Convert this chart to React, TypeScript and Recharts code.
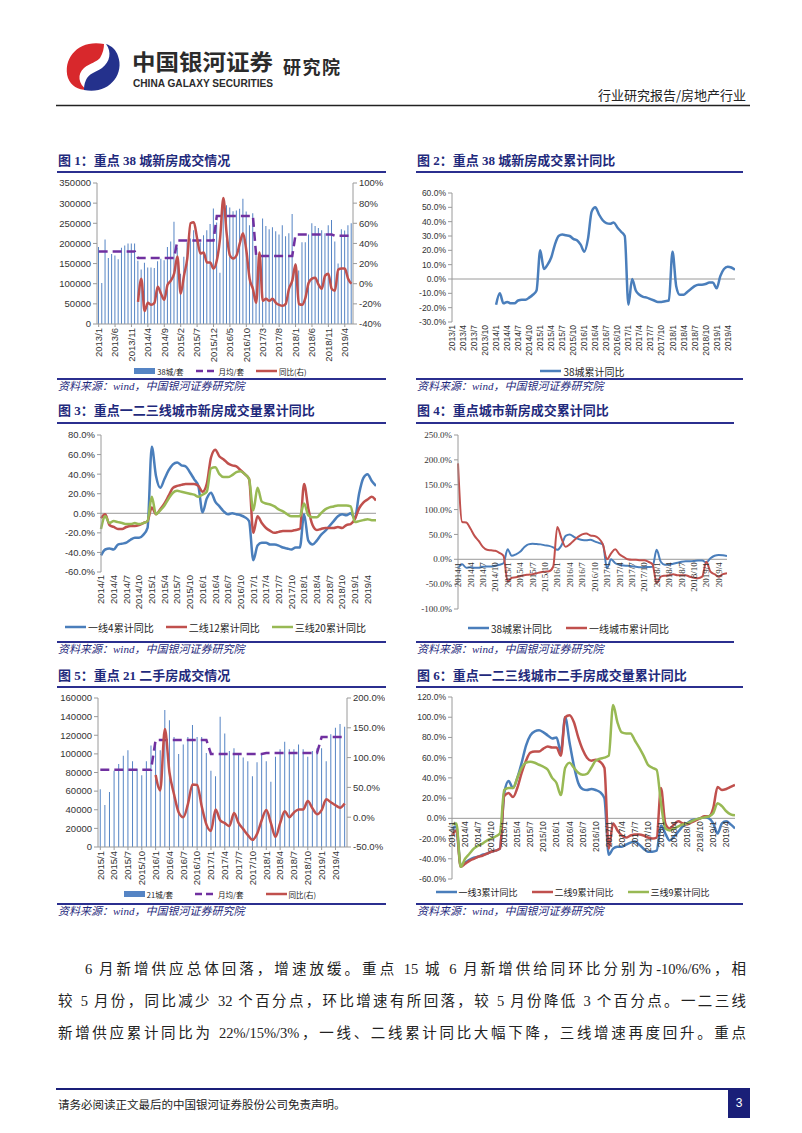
import React from "react";
import {
  ComposedChart,
  LineChart,
  Bar,
  Line,
  XAxis,
  YAxis,
  Legend,
  ReferenceLine,
} from "recharts";

const SANS = "'Liberation Sans', Arial, 'Noto Sans CJK SC', sans-serif";
const CJK = "'Noto Sans CJK SC', sans-serif";
const SERIF = "'Liberation Serif', 'Noto Sans CJK SC', serif";
const NAVY = "#1f2a7c";
const RULE = "#2b2f8f";
const AXIS = "#9a9a9a";
const BAR = "#5584c4";
const BLUE = "#4a7ebb";
const RED = "#c0504d";
const GREEN = "#98b954";
const PURPLE = "#7030a0";

// month labels like 2013/1
function monthLabels(y: number, m: number, n: number) {
  const out: string[] = [];
  for (let i = 0; i < n; i++) {
    const t = m - 1 + i;
    out.push(`${y + Math.floor(t / 12)}/${(t % 12) + 1}`);
  }
  return out;
}

// ---------- 图1 ----------
const months13 = monthLabels(2013, 1, 78);
const deals38 = [
  191000, 102000, 210000, 164000, 174000, 170000, 161000, 189000, 195000, 200000, 200000, 200000,
  157000, 135000, 152000, 140000, 140000, 139000, 156000, 162000, 158000, 191000, 205000, 254000,
  190000, 125000, 167000, 203000, 212000, 233000, 207000, 203000, 220000, 233000, 248000, 287000,
  252000, 127000, 297000, 295000, 289000, 280000, 282000, 286000, 311000, 279000, 245000, 275000,
  178000, 165000, 262000, 243000, 235000, 240000, 230000, 222000, 245000, 218000, 225000, 273000,
  150000, 133000, 203000, 203000, 222000, 250000, 243000, 238000, 233000, 225000, 245000, 258000,
  205000, 150000, 235000, 232000, 245000, 250000,
];
const avg38ByYear = [180000, 164000, 207000, 268000, 169000, 222000, 219000];
const yoy38 = [
  null, null, null, null, null, null, null, null, null, null, null, null,
  -18, 5, -27, -19, -21, -19, -3, -10, -16, -1, 3, 10,
  27, -10, 8, 25, 60, 61, 45, 30, 31, 21, 21, 15,
  23, 45, 85, 50, 28, 25, 28, 40, 50, 33, 5, -5,
  -19, 31, -17, -15, -17, -15, -19, -21, -22, -20, -5, 3,
  19, -20, -21, -14, 1, 5, 6, -1, -5, 8, 10, -5,
  -7, 14, 15, 15, 5, 0,
];
const c1LeftTicks = [0, 50000, 100000, 150000, 200000, 250000, 300000, 350000];
const c1RightTicks = [-40, -20, 0, 20, 40, 60, 80, 100];

// ---------- 图2 / 图4 ----------
const months14 = monthLabels(2014, 1, 66);
const cum38 = [
  -18, -10, -17, -16, -17, -17, -15, -14.5, -14.5, -13, -11, -8,
  20, 7, 10, 15, 24, 30, 31, 30.5, 30, 28, 27, 24,
  19, 28, 47, 50, 45, 41, 39, 38.5, 39.5, 36, 33, 30,
  -18, 0, -8, -11, -12.5, -13, -14, -15, -16, -16, -15.5, -15,
  19, -5, -11, -11, -9, -7, -5, -4, -4, -3.5, -2.5, -2.5,
  -6.5, 2, 7, 8.5, 8, 6.5,
];
const c2Ticks = [-30, -20, -10, 0, 10, 20, 30, 40, 50, 60];

const tier1Cum = [
  193, 75, 74, 62, 47, 37, 25, 19, 18, 17, 13, 7,
  -45, -37, -36, -34, -32, -31, -30, -28, -26, -25, -24, -15,
  65, 42, 25, 30, 38, 45, 50, 52, 48, 47, 42, 30,
  0, 12, 20, 10, 5, 0, -1, -1, -2, -2, -5, -10,
  -48, -35, -33, -32, -30, -32, -32, -32, -35, -37, -38, -35,
  -5, -25, -30, -35, -30, -28,
];
const c4Ticks = [-100, -50, 0, 50, 100, 150, 200, 250];

// ---------- 图3 ----------
const t1New = [
  -43, -37, -36, -37, -32, -31, -30, -27, -25, -25, -22, -15,
  68, 38, 26, 35, 44, 50, 52, 49, 48, 42, 35, 28,
  1, 15, 21, 12, 7, 2, -1, 0, -1, -2, -4, -8,
  -48, -33, -30, -30, -32, -32, -33, -35, -36, -37, -35, -35,
  -1, -28, -32, -28, -22, -18, -13, -8, -3, -1, -2, 0,
  -5, 20, 36, 40, 33, 28,
];
const t2New = [
  -5, -1, -12, -14, -16, -16, -14, -13, -13, -12, -10, -8,
  6, -1, 4, 10, 18, 26, 28, 29, 30, 30, 30, 28,
  22, 30, 57, 65, 58, 55, 51, 49, 48, 44, 40, 35,
  -20, -3, -10, -15, -18, -20, -19, -18, -18, -18, -17, -16,
  30, 5, -12, -17, -16, -15, -15, -15, -14, -15, -12, -11,
  -6, 5, 11, 14, 17, 13,
];
const t3New = [
  -16, -3, -10, -8, -9, -10, -11, -11, -10, -11, -10, -8,
  17, -1, 3, 8, 15, 21, 23, 22, 21, 20, 19, 17,
  19, 22, 46, 47, 40, 37, 37, 39, 42, 43, 40, 35,
  3, 26, 12, 10, 9, 7, 4, 2, -1, -3, -3, -3,
  10, -2, -4, -4, 0, 4, 6, 7, 8, 8, 8, 7,
  -9, -8, -7, -6, -7, -7,
];
const c3Ticks = [-60, -40, -20, 0, 20, 40, 60, 80];

// ---------- 图5 ----------
const months15 = monthLabels(2015, 1, 54);
const deals21 = [
  62000, 45000, 59000, 82000, 89000, 98000, 104000, 92000, 84000, 77000, 92000, 109000,
  110000, 104000, 147000, 136000, 118000, 100000, 110000, 118000, 131000, 118000, 118000, 101000,
  82000, 76000, 140000, 122000, 103000, 106000, 100000, 96000, 92000, 76000, 91000, 100000,
  92000, 70000, 97000, 105000, 113000, 105000, 105000, 110000, 105000, 97000, 103000, 106000,
  106000, 92000, 121000, 128000, 132000, 129000,
];
const avg21ByYear = [83000, 115000, 100000, 101000, 118000];
const yoy21 = [
  null, null, null, null, null, null, null, null, null, null, null, null,
  71, 45, 148, 75, 38, 8, 0, 22, 55, 54, 18, -12,
  -23, 13, -5, -10, -15, 7, -10, -20, -30, -38, -28, -5,
  12, -10, -33, -10, 10, 0, 8, 13, 13, 27, 15, 5,
  12, 30, 25, 20, 16, 23,
];
const c5LeftTicks = [0, 20000, 40000, 60000, 80000, 100000, 120000, 140000, 160000];
const c5RightTicks = [-50, 0, 50, 100, 150, 200];

// ---------- 图6 ----------
const t1Used = [
  -10, -8, -47, -44, -41, -39, -38, -36, -35, -33, -32, -30,
  25, 37, 30, 40, 55, 72, 82, 86, 87, 85, 82, 79,
  80, 66, 100, 75, 52, 35, 29, 28, 29, 28, 26, 20,
  -36, -30, -28, -28, -26, -24, -23, -26, -30, -33, -33, -32,
  -7, -15, -22, -18, -13, -8, -5, -2, -1, 0, 1, 0,
  -5, -15, -5, -3, -6, -10,
];
const t2Used = [
  -17, -12, -48, -45, -42, -40, -38, -37, -35, -33, -32, -30,
  22, 25, 21, 30, 45, 57, 65, 66, 66, 69, 71, 70,
  70, 62, 100, 102, 95, 80, 68, 60, 57, 58, 56, 50,
  -30, -5, -12, -17, -19, -17, -16, -16, -17, -19, -20, -19,
  30, -5, -10, -6, -3, -5, -6, -4, -2, 0, 2, 2,
  10, 31, 28, 29, 31, 33,
];
const t3Used = [
  -6, -5, -48, -40, -35, -30, -27, -25, -22, -20, -18, -15,
  28, 30, 30, 40, 50, 55, 56, 55, 53, 51, 48, 40,
  35, 23, 50, 55, 50, 45, 43, 44, 50, 57, 59, 60,
  62, 112, 95, 85, 84, 84, 77, 70, 62, 53, 50, 48,
  15, -10, -12, -10, -8, -6, -5, -3, -1, 0, 1, 2,
  5, 15, 12, 7, 4, 3,
];
const c6Ticks = [-60, -40, -20, 0, 20, 40, 60, 80, 100, 120];

// ---------- tables ----------
const data1 = months13.map((m, i) => ({
  m,
  deals: deals38[i],
  avg: avg38ByYear[Math.floor(i / 12)],
  yoy: yoy38[i],
}));
const data2 = months13.map((m, i) => ({ m, v: i < 12 ? null : cum38[i - 12] }));
const data3 = months14.map((m, i) => ({ m, a: t1New[i], b: t2New[i], c: t3New[i] }));
const data4 = months14.map((m, i) => ({ m, a: cum38[i], b: tier1Cum[i] }));
const data5 = months15.map((m, i) => ({
  m,
  deals: deals21[i],
  avg: avg21ByYear[Math.floor(i / 12)],
  yoy: yoy21[i],
}));
const data6 = months14.map((m, i) => ({ m, a: t1Used[i], b: t2Used[i], c: t3Used[i] }));

const pct1 = (v: number) => `${v.toFixed(1)}%`;

function RotTick(props: any) {
  const { x, y, payload, shift = 0, family = SANS, size = 9.5 } = props;
  return (
    <g transform={`translate(${x},${y - shift})`}>
      <text
        transform="rotate(-90)"
        textAnchor="end"
        dy="0.35em"
        fontSize={size}
        fontFamily={family}
        fill="#333"
      >
        {payload.value}
      </text>
    </g>
  );
}

type Leg = { label: string; kind: "bar" | "line" | "dash"; color: string };
function legendOf(items: Leg[], size: number, gap: number, pad = 0) {
  return () => (
    <div
      style={{
        display: "flex",
        justifyContent: "center",
        alignItems: "center",
        height: 14,
        paddingLeft: pad,
        fontFamily: CJK,
        fontSize: size,
        color: "#222",
        whiteSpace: "nowrap",
      }}
    >
      {items.map((it, i) => (
        <div key={i} style={{ display: "flex", alignItems: "center", marginLeft: i ? gap : 0 }}>
          <svg width={21} height={10} style={{ marginRight: 2 }}>
            {it.kind === "bar" ? (
              <rect x={0} y={2} width={21} height={6} fill={it.color} />
            ) : (
              <line
                x1={0}
                x2={21}
                y1={5}
                y2={5}
                stroke={it.color}
                strokeWidth={2.5}
                strokeDasharray={it.kind === "dash" ? "7 4" : undefined}
              />
            )}
          </svg>
          <span>{it.label}</span>
        </div>
      ))}
    </div>
  );
}

const tickStyle = (size: number, family = SANS) => ({ fontSize: size, fill: "#333", fontFamily: family });

function Frame({ left, width, titleTop, ruleTop, bottomTop, title }: any) {
  return (
    <>
      <div
        style={{
          position: "absolute",
          left: left + 1,
          top: titleTop,
          fontFamily: SERIF,
          fontWeight: 700,
          fontSize: 13,
          lineHeight: "16px",
          color: NAVY,
          whiteSpace: "nowrap",
        }}
      >
        {title}
      </div>
      <div style={{ position: "absolute", left, top: ruleTop, width, height: 1.5, background: RULE }} />
      <div style={{ position: "absolute", left, top: bottomTop, width, height: 1.5, background: RULE }} />
      <div
        style={{
          position: "absolute",
          left: left + 1,
          top: bottomTop + 1,
          fontFamily: SERIF,
          fontStyle: "italic",
          fontSize: 11,
          lineHeight: "14px",
          color: NAVY,
          whiteSpace: "nowrap",
        }}
      >
        资料来源：wind，中国银河证券研究院
      </div>
    </>
  );
}

const box = (left: number, top: number): React.CSSProperties => ({ position: "absolute", left, top });

export default function App() {
  return (
    <div
      style={{
        position: "absolute",
        left: 0,
        top: 0,
        width: 802,
        height: 1133,
        background: "#fff",
        overflow: "hidden",
      }}
    >
      {/* header */}
      <svg style={{ position: "absolute", left: 0, top: 0 }} width={802} height={112}>
        <path
          d="M104 44 C80 39 62 57 68 78 C71 86 78 90 87 90 C78 84 77 74 84 68 C90 63 97 62 100 58 C103 53 104 48 104 44 Z"
          fill="#d8282c"
        />
        <path
          d="M84 90 C108 95 125 75 118 56 C116 50 112 46 106 44 C112 52 110 62 102 68 C96 72 88 74 86 80 C84 84 84 88 84 90 Z"
          fill="#24318c"
        />
        <text x={132} y={70} fontSize={21.5} fontWeight={700} fontFamily={CJK} fill="#2b2b2b" textLength={141} lengthAdjust="spacingAndGlyphs">
          中国银河证券
        </text>
        <text x={133} y={86.5} fontSize={10} fontWeight={700} fontFamily={SANS} fill="#2b2b2b" textLength={140} lengthAdjust="spacingAndGlyphs">
          CHINA GALAXY SECURITIES
        </text>
        <text x={283} y={74} fontSize={18} fontWeight={700} fontFamily={CJK} fill="#2b2b2b" textLength={57}>
          研究院
        </text>
        <text x={746} y={100} textAnchor="end" fontSize={13} fontFamily={CJK} fill="#222">
          行业研究报告/房地产行业
        </text>
        <line x1={56} x2={750} y1={105.5} y2={105.5} stroke="#222" strokeWidth={1.5} />
      </svg>

      {/* 图1 */}
      <Frame left={57} width={329} titleTop={153} ruleTop={171} bottomTop={378} title="图 1：重点 38 城新房成交情况" />
      <div style={box(55, 175)}>
        <ComposedChart width={331} height={203} data={data1} margin={{ top: 8, right: 0, bottom: 0, left: 0 }} barCategoryGap="30%">
          <XAxis dataKey="m" interval={4} height={40} stroke={AXIS} tickSize={3} tickMargin={1} tick={(p: any) => <RotTick {...p} size={9.5} />} />
          <YAxis yAxisId="l" domain={[0, 350000]} ticks={c1LeftTicks} interval={0} width={42} stroke={AXIS} tickSize={4} tickMargin={2} tick={tickStyle(9.5)} />
          <YAxis yAxisId="r" orientation="right" domain={[-40, 100]} ticks={c1RightTicks} interval={0} width={33} stroke={AXIS} tickSize={4} tickMargin={2} tick={tickStyle(9.5)} tickFormatter={(v: number) => `${v}%`} />
          <Bar yAxisId="l" dataKey="deals" fill={BAR} isAnimationActive={false} />
          <Line yAxisId="l" dataKey="avg" type="linear" stroke={PURPLE} strokeWidth={2.5} strokeDasharray="9 5" dot={false} activeDot={false} isAnimationActive={false} />
          <Line yAxisId="r" dataKey="yoy" type="monotone" stroke={RED} strokeWidth={2.5} dot={false} activeDot={false} isAnimationActive={false} />
          <Legend
            verticalAlign="bottom"
            content={legendOf(
              [
                { label: "38城/套", kind: "bar", color: BAR },
                { label: "月均/套", kind: "dash", color: PURPLE },
                { label: "同比(右)", kind: "line", color: RED },
              ],
              7.5,
              12
            )}
          />
        </ComposedChart>
      </div>

      {/* 图2 */}
      <Frame left={416} width={327} titleTop={153} ruleTop={171} bottomTop={378} title="图 2：重点 38 城新房成交累计同比" />
      <div style={box(410, 185)}>
        <LineChart width={325} height={193} data={data2} margin={{ top: 8, right: 0, bottom: 0, left: 0 }}>
          <XAxis dataKey="m" interval={2} height={42} axisLine={false} tickLine={false} tickSize={2} tickMargin={1} tick={(p: any) => <RotTick {...p} size={8.5} />} />
          <YAxis domain={[-30, 60]} ticks={c2Ticks} interval={0} width={42} stroke={AXIS} tickSize={4} tickMargin={2} tick={tickStyle(8.5)} tickFormatter={pct1} />
          <ReferenceLine y={0} stroke={AXIS} />
          <Line dataKey="v" type="monotone" stroke={BLUE} strokeWidth={2.5} dot={false} activeDot={false} isAnimationActive={false} />
          <Legend verticalAlign="bottom" content={legendOf([{ label: "38城累计同比", kind: "line", color: BLUE }], 10, 0, 20)} />
        </LineChart>
      </div>

      {/* 图3 */}
      <Frame left={57} width={329} titleTop={403} ruleTop={422} bottomTop={641} title="图 3：重点一二三线城市新房成交量累计同比" />
      <div style={box(55, 427)}>
        <LineChart width={321} height={207} data={data3} margin={{ top: 8, right: 0, bottom: 0, left: 0 }}>
          <XAxis dataKey="m" interval={2} height={48} axisLine={false} tickLine={false} tickSize={2} tickMargin={1} tick={(p: any) => <RotTick {...p} size={9.5} />} />
          <YAxis domain={[-60, 80]} ticks={c3Ticks} interval={0} width={46} stroke={AXIS} tickSize={4} tickMargin={2} tick={tickStyle(9.5)} tickFormatter={pct1} />
          <ReferenceLine y={0} stroke={AXIS} />
          <Line dataKey="a" type="monotone" stroke={BLUE} strokeWidth={2.5} dot={false} activeDot={false} isAnimationActive={false} />
          <Line dataKey="b" type="monotone" stroke={RED} strokeWidth={2.5} dot={false} activeDot={false} isAnimationActive={false} />
          <Line dataKey="c" type="monotone" stroke={GREEN} strokeWidth={2.5} dot={false} activeDot={false} isAnimationActive={false} />
          <Legend
            verticalAlign="bottom"
            content={legendOf(
              [
                { label: "一线4累计同比", kind: "line", color: BLUE },
                { label: "二线12累计同比", kind: "line", color: RED },
                { label: "三线20累计同比", kind: "line", color: GREEN },
              ],
              10,
              12
            )}
          />
        </LineChart>
      </div>

      {/* 图4 */}
      <Frame left={416} width={318} titleTop={403} ruleTop={422} bottomTop={641} title="图 4：重点城市新房成交累计同比" />
      <div style={box(410, 427)}>
        <LineChart width={317} height={208} data={data4} margin={{ top: 8, right: 0, bottom: 0, left: 0 }}>
          <XAxis dataKey="m" interval={2} height={12} axisLine={false} tickLine={false} tickSize={2} tickMargin={1} tick={(p: any) => <RotTick {...p} size={9} family={SERIF} shift={(174 * 100) / 350} />} />
          <YAxis domain={[-100, 250]} ticks={c4Ticks} interval={0} width={48} stroke={AXIS} tickSize={4} tickMargin={2} tick={tickStyle(9, SERIF)} tickFormatter={pct1} />
          <ReferenceLine y={0} stroke={AXIS} />
          <Line dataKey="a" type="monotone" stroke={BLUE} strokeWidth={2} dot={false} activeDot={false} isAnimationActive={false} />
          <Line dataKey="b" type="monotone" stroke={RED} strokeWidth={2} dot={false} activeDot={false} isAnimationActive={false} />
          <Legend
            verticalAlign="bottom"
            content={legendOf(
              [
                { label: "38城累计同比", kind: "line", color: BLUE },
                { label: "一线城市累计同比", kind: "line", color: RED },
              ],
              10,
              14
            )}
          />
        </LineChart>
      </div>

      {/* 图5 */}
      <Frame left={57} width={329} titleTop={668} ruleTop={686} bottomTop={903} title="图 5：重点 21 二手房成交情况" />
      <div style={box(55, 690)}>
        <ComposedChart width={330} height={211} data={data5} margin={{ top: 8, right: 0, bottom: 0, left: 0 }} barCategoryGap="38%">
          <XAxis dataKey="m" interval={2} height={40} stroke={AXIS} tickSize={3} tickMargin={1} tick={(p: any) => <RotTick {...p} size={9.5} />} />
          <YAxis yAxisId="l" domain={[0, 160000]} ticks={c5LeftTicks} interval={0} width={43} stroke={AXIS} tickSize={4} tickMargin={2} tick={tickStyle(9.5)} />
          <YAxis yAxisId="r" orientation="right" domain={[-50, 200]} ticks={c5RightTicks} interval={0} width={38} stroke={AXIS} tickSize={4} tickMargin={2} tick={tickStyle(9.5)} tickFormatter={pct1} />
          <Bar yAxisId="l" dataKey="deals" fill={BAR} isAnimationActive={false} />
          <Line yAxisId="l" dataKey="avg" type="linear" stroke={PURPLE} strokeWidth={2.5} strokeDasharray="9 5" dot={false} activeDot={false} isAnimationActive={false} />
          <Line yAxisId="r" dataKey="yoy" type="monotone" stroke={RED} strokeWidth={2.5} dot={false} activeDot={false} isAnimationActive={false} />
          <Legend
            verticalAlign="bottom"
            content={legendOf(
              [
                { label: "21城/套", kind: "bar", color: BAR },
                { label: "月均/套", kind: "dash", color: PURPLE },
                { label: "同比(右)", kind: "line", color: RED },
              ],
              7.5,
              22
            )}
          />
        </ComposedChart>
      </div>

      {/* 图6 */}
      <Frame left={416} width={327} titleTop={668} ruleTop={686} bottomTop={903} title="图 6：重点一二三线城市二手房成交量累计同比" />
      <div style={box(410, 689)}>
        <LineChart width={325} height={210} data={data6} margin={{ top: 8, right: 0, bottom: 0, left: 0 }}>
          <XAxis dataKey="m" interval={2} height={6} axisLine={false} tickLine={false} tickSize={2} tickMargin={1} tick={(p: any) => <RotTick {...p} size={8.5} shift={(182 * 60) / 180} />} />
          <YAxis domain={[-60, 120]} ticks={c6Ticks} interval={0} width={42} stroke={AXIS} tickSize={4} tickMargin={2} tick={tickStyle(8.5)} tickFormatter={pct1} />
          <ReferenceLine y={0} stroke={AXIS} />
          <Line dataKey="a" type="monotone" stroke={BLUE} strokeWidth={2.5} dot={false} activeDot={false} isAnimationActive={false} />
          <Line dataKey="b" type="monotone" stroke={RED} strokeWidth={2.5} dot={false} activeDot={false} isAnimationActive={false} />
          <Line dataKey="c" type="monotone" stroke={GREEN} strokeWidth={2.5} dot={false} activeDot={false} isAnimationActive={false} />
          <Legend
            verticalAlign="bottom"
            content={legendOf(
              [
                { label: "一线3累计同比", kind: "line", color: BLUE },
                { label: "二线9累计同比", kind: "line", color: RED },
                { label: "三线9累计同比", kind: "line", color: GREEN },
              ],
              9,
              14
            )}
          />
        </LineChart>
      </div>

      {/* body text */}
      {[
        { left: 85, top: 959, text: "6 月新增供应总体回落，增速放缓。重点 15 城 6 月新增供给同环比分别为-10%/6%，相" },
        { left: 58, top: 991, text: "较 5 月份，同比减少 32 个百分点，环比增速有所回落，较 5 月份降低 3 个百分点。一二三线" },
        { left: 58, top: 1023, text: "新增供应累计同比为 22%/15%/3%，一线、二线累计同比大幅下降，三线增速再度回升。重点" },
      ].map((l, i) => (
        <div
          key={i}
          style={{
            position: "absolute",
            left: l.left,
            top: l.top,
            width: 746 - l.left,
            fontFamily: SERIF,
            fontSize: 14.5,
            lineHeight: "20px",
            color: "#222",
            textAlign: "justify",
            textAlignLast: "justify",
            whiteSpace: "nowrap",
          }}
        >
          {l.text}
        </div>
      ))}

      {/* footer */}
      <div style={{ position: "absolute", left: 56, top: 1088, width: 694, height: 1.5, background: "#1a1f78" }} />
      <div style={{ position: "absolute", left: 58, top: 1096, fontFamily: CJK, fontSize: 11.5, lineHeight: "16px", color: "#222" }}>
        请务必阅读正文最后的中国银河证券股份公司免责声明。
      </div>
      <div
        style={{
          position: "absolute",
          left: 728,
          top: 1089,
          width: 22,
          height: 29,
          background: "#1a1f78",
          color: "#fff",
          fontFamily: SANS,
          fontSize: 12,
          lineHeight: "29px",
          textAlign: "center",
        }}
      >
        3
      </div>
    </div>
  );
}
